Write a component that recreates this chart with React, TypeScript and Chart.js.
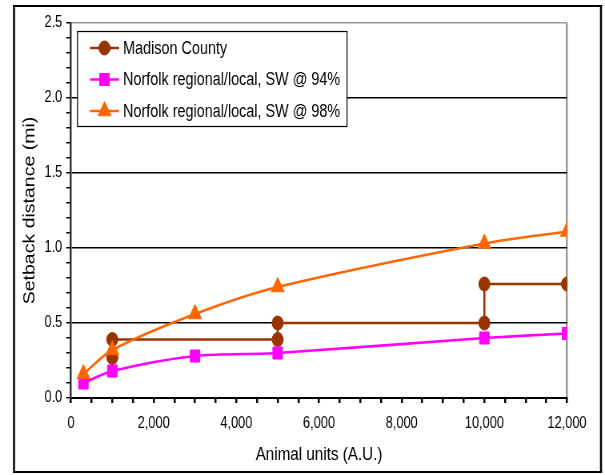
import React, { useEffect, useRef } from "react";
import { Chart, registerables } from "chart.js";

Chart.register(...registerables);

// ---- data ----
const madisonX = [1000, 1000, 5000, 5000, 10000, 10000, 12000];
const madisonY = [0.27, 0.39, 0.39, 0.5, 0.5, 0.76, 0.76];
const norfolkX = [300, 1000, 3000, 5000, 10000, 12000];
const sw94Y = [0.1, 0.18, 0.28, 0.3, 0.4, 0.43];
const sw98Y = [0.16, 0.32, 0.56, 0.74, 1.03, 1.11];
const seriesLabels = [
  "Madison County",
  "Norfolk regional/local, SW @ 94%",
  "Norfolk regional/local, SW @ 98%",
];
const seriesColors = ["#993300", "#FF00FF", "#FF6600"];
const pointShapes = ["circle", "rect", "triangle"];
const pointSizes = [7, 8.5, 9.5];
const xTitle = "Animal units (A.U.)";
const yTitle = "Setback distance (mi)";
const xMin = 0;
const xMax = 12000;
const xStep = 500;
const xLabelStep = 2000;
const yMin = 0;
const yMax = 2.5;
const yStep = 0.1;
const yLabelStep = 0.5;

// The reference is horizontally condensed; the chart is drawn on a wider
// canvas and shown at 605px width.
const VIEW_W = 605;
const VIEW_H = 475;
const CANVAS_W = 756;
const SX = VIEW_W / CANVAS_W;
const cx = (x: number) => x / SX;

const FONT = "'Liberation Sans', Arial, sans-serif";

function isMultiple(v: number, step: number) {
  const r = v / step;
  return Math.abs(r - Math.round(r)) < 1e-6;
}

function drawMarker(ctx: CanvasRenderingContext2D, shape: string, x: number, y: number, r: number, color: string) {
  ctx.save();
  ctx.fillStyle = color;
  ctx.strokeStyle = color;
  ctx.lineWidth = 1;
  ctx.beginPath();
  if (shape === "circle") {
    ctx.arc(x, y, r, 0, Math.PI * 2);
  } else if (shape === "rect") {
    const s = Math.SQRT1_2 * r;
    ctx.rect(x - s, y - s, 2 * s, 2 * s);
  } else {
    ctx.moveTo(x, y - r);
    ctx.lineTo(x + 0.866 * r, y + 0.5 * r);
    ctx.lineTo(x - 0.866 * r, y + 0.5 * r);
    ctx.closePath();
  }
  ctx.fill();
  ctx.stroke();
  ctx.restore();
}

const framePlugin = {
  id: "frameAndLegend",
  afterDraw(chart: any) {
    const ctx: CanvasRenderingContext2D = chart.ctx;
    ctx.save();
    // outer frame
    ctx.strokeStyle = "#000";
    ctx.lineWidth = 2;
    ctx.beginPath();
    ctx.moveTo(cx(13), 6);
    ctx.lineTo(cx(602), 6);
    ctx.moveTo(cx(13), 472);
    ctx.lineTo(cx(602), 472);
    ctx.stroke();
    ctx.lineWidth = 2.5;
    ctx.beginPath();
    ctx.moveTo(cx(14), 5);
    ctx.lineTo(cx(14), 473);
    ctx.moveTo(cx(601), 5);
    ctx.lineTo(cx(601), 473);
    ctx.stroke();
    // legend box
    const bx = cx(77.5);
    const bw = cx(347) - bx;
    ctx.fillStyle = "#fff";
    ctx.fillRect(bx, 31.5, bw, 95);
    ctx.lineWidth = 1.25;
    ctx.strokeStyle = "#000";
    ctx.strokeRect(bx, 31.5, bw, 95);
    const rows = [48, 79.5, 111];
    chart.data.datasets.forEach((ds: any, i: number) => {
      const y = rows[i];
      ctx.strokeStyle = ds.borderColor;
      ctx.lineWidth = 2.5;
      ctx.beginPath();
      ctx.moveTo(cx(90), y);
      ctx.lineTo(cx(119), y);
      ctx.stroke();
      drawMarker(ctx, ds.pointStyle, cx(104.5), y, ds.pointRadius, ds.borderColor);
      ctx.fillStyle = "#000";
      ctx.font = `18px ${FONT}`;
      ctx.textBaseline = "middle";
      ctx.textAlign = "left";
      ctx.fillText(ds.label, cx(123), y + 1);
    });
    ctx.restore();
  },
};

export default function App() {
  const ref = useRef<HTMLCanvasElement>(null);

  useEffect(() => {
    const canvas = ref.current;
    if (!canvas) return;
    const mk = (xs: number[], ys: number[]) => xs.map((x, i) => ({ x, y: ys[i] }));
    const seriesData = [mk(madisonX, madisonY), mk(norfolkX, sw94Y), mk(norfolkX, sw98Y)];
    const datasets = seriesLabels.map((label, i) => ({
      label,
      data: seriesData[i],
      borderColor: seriesColors[i],
      backgroundColor: seriesColors[i],
      pointBackgroundColor: seriesColors[i],
      pointBorderColor: seriesColors[i],
      pointStyle: pointShapes[i],
      pointRadius: pointSizes[i],
      pointBorderWidth: 1,
      borderWidth: 2.6,
      tension: i === 0 ? 0 : 0.3,
      order: 3 - i,
      fill: false,
    }));

    const plotLeft = cx(71);
    const plotRight = cx(567);

    const chart = new Chart(canvas, {
      type: "line",
      data: { datasets } as any,
      plugins: [framePlugin],
      options: {
        responsive: false,
        animation: false,
        devicePixelRatio: 1,
        layout: { padding: { left: 0, top: 23, right: CANVAS_W - plotRight, bottom: 0 } },
        plugins: { legend: { display: false }, tooltip: { enabled: false }, title: { display: false } },
        scales: {
          x: {
            type: "linear",
            min: xMin,
            max: xMax,
            afterFit: (s: any) => {
              s.height = 77;
            },
            ticks: {
              stepSize: xStep,
              autoSkip: false,
              maxRotation: 0,
              minRotation: 0,
              padding: 11,
              color: "#000",
              font: { family: FONT, size: 16 },
              callback: (v: any) => (isMultiple(Number(v), xLabelStep) ? Number(v).toLocaleString("en-US") : ""),
            },
            grid: {
              color: (c: any) => (c.tick && Math.abs(c.tick.value - xMax) < 1e-6 ? "#9a9a9a" : "rgba(0,0,0,0)"),
              tickColor: "#000",
              tickLength: 5,
              lineWidth: 2.5,
            },
            border: { display: true, color: "#000", width: 2 },
            title: {
              display: true,
              text: xTitle,
              color: "#000",
              font: { family: FONT, size: 19 },
              padding: { top: 0, bottom: 9 },
            },
          },
          y: {
            type: "linear",
            min: yMin,
            max: yMax,
            afterFit: (s: any) => {
              s.width = plotLeft;
            },
            ticks: {
              stepSize: yStep,
              autoSkip: false,
              padding: 5,
              color: "#000",
              font: { family: FONT, size: 16 },
              callback: (v: any) => (isMultiple(Number(v), yLabelStep) ? Number(v).toFixed(1) : ""),
            },
            grid: {
              color: (c: any) => {
                if (!c.tick) return "rgba(0,0,0,0)";
                const v = c.tick.value;
                if (Math.abs(v - yMax) < 1e-6) return "#9a9a9a";
                return isMultiple(v, yLabelStep) ? "#000" : "rgba(0,0,0,0)";
              },
              tickColor: "#000",
              tickLength: 6,
              lineWidth: 1.5,
            },
            border: { display: true, color: "#333", width: 2.5 },
            title: {
              display: true,
              text: yTitle,
              color: "#000",
              font: { family: FONT, size: 19.5 },
              padding: { top: 26, bottom: 0 },
            },
          },
        },
      } as any,
    });
    return () => chart.destroy();
  }, []);

  return (
    <div style={{ position: "absolute", left: 0, top: 0, width: VIEW_W, height: VIEW_H, background: "#fff" }}>
      <canvas
        ref={ref}
        width={CANVAS_W}
        height={VIEW_H}
        style={{ display: "block", width: VIEW_W + "px", height: VIEW_H + "px" }}
      />
    </div>
  );
}
